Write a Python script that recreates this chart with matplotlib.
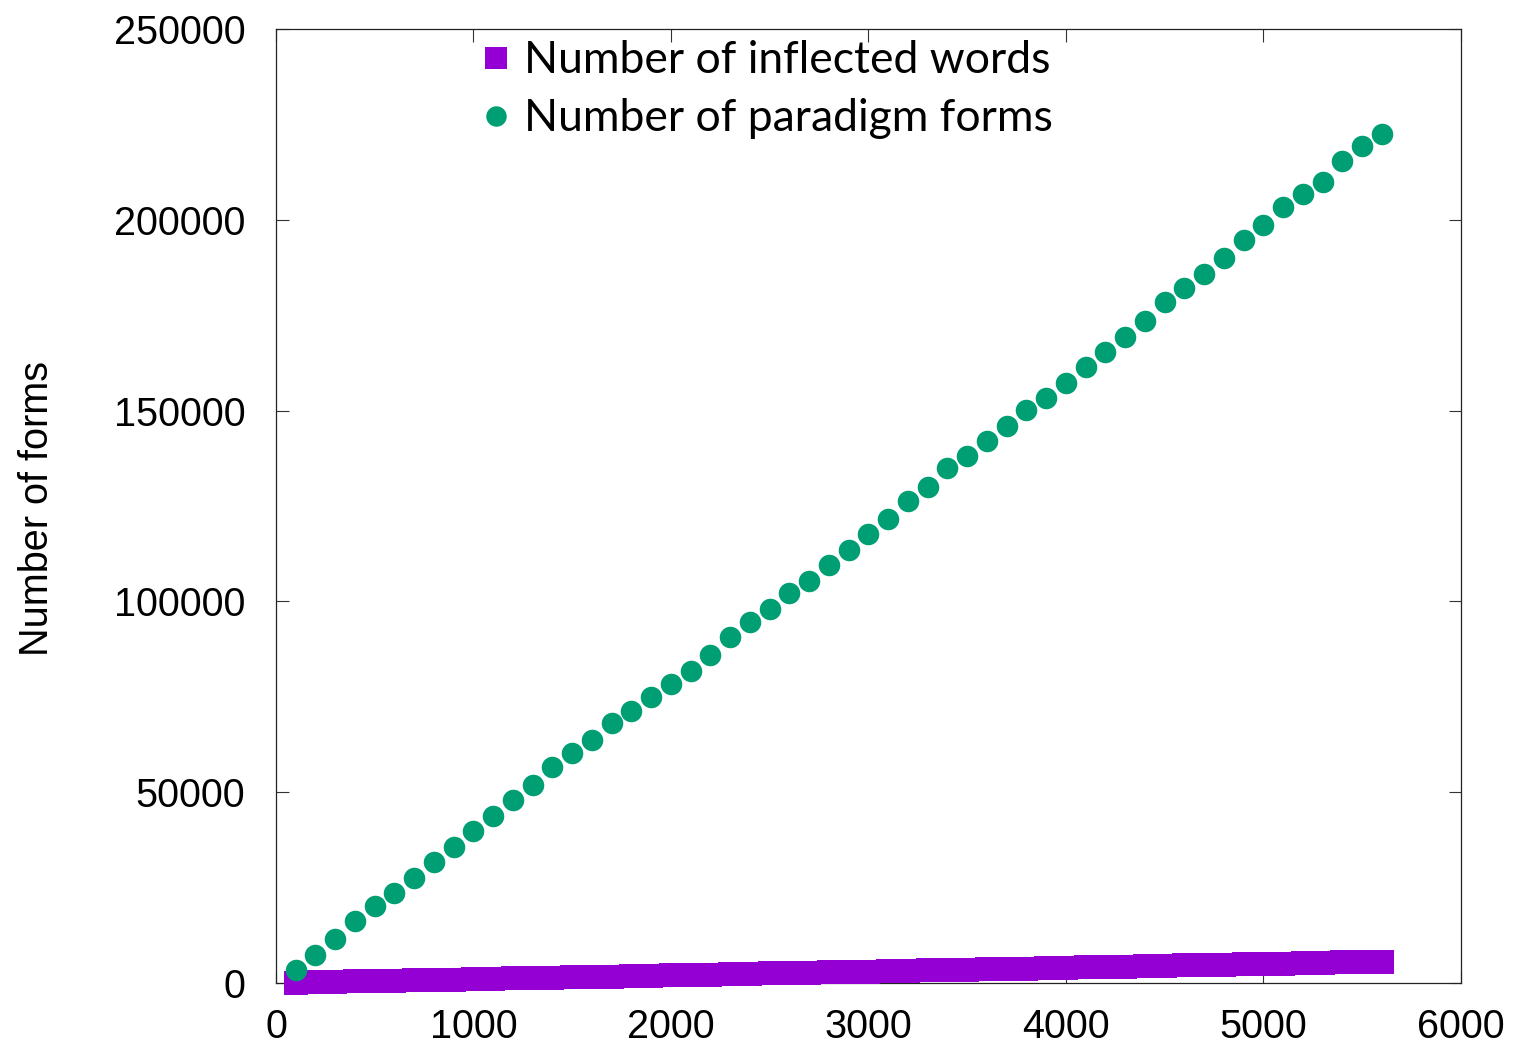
import numpy as np
import matplotlib.pyplot as plt

# number of words in the sample (x axis)
words = [100, 200, 300, 400, 500, 600, 700, 800, 900, 1000,
         1100, 1200, 1300, 1400, 1500, 1600, 1700, 1800, 1900, 2000,
         2100, 2200, 2300, 2400, 2500, 2600, 2700, 2800, 2900, 3000,
         3100, 3200, 3300, 3400, 3500, 3600, 3700, 3800, 3900, 4000,
         4100, 4200, 4300, 4400, 4500, 4600, 4700, 4800, 4900, 5000,
         5100, 5200, 5300, 5400, 5500, 5600]

inflected = [100, 200, 300, 400, 500, 600, 700, 800, 900, 1000,
             1100, 1200, 1300, 1400, 1500, 1600, 1700, 1800, 1900, 2000,
             2100, 2200, 2300, 2400, 2500, 2600, 2700, 2800, 2900, 3000,
             3100, 3200, 3300, 3400, 3500, 3600, 3700, 3800, 3900, 4000,
             4100, 4200, 4300, 4400, 4500, 4600, 4700, 4800, 4900, 5000,
             5100, 5200, 5300, 5400, 5500, 5600]

paradigm = [3400, 7300, 11500, 16200, 20200, 23600, 27500, 31700, 35600, 39800,
            43800, 48000, 51900, 56600, 60300, 63700, 68100, 71300, 74900, 78400,
            81800, 85900, 90700, 94600, 98000, 102200, 105300, 109500, 113500, 117700,
            121600, 126300, 130000, 135000, 138100, 142000, 146000, 150200, 153300, 157200,
            161400, 165400, 169300, 173500, 178500, 182100, 185800, 190000, 194700, 198600,
            203400, 206800, 209900, 215400, 219300, 222500]

xticks = [0, 1000, 2000, 3000, 4000, 5000, 6000]
yticks = [0, 50000, 100000, 150000, 200000, 250000]

fig = plt.figure(figsize=(15.13, 10.48), dpi=100)
ax = fig.add_axes([0.1824, 0.0620, 0.7832, 0.9103])

ax.plot(words, inflected, "s", color="#9400D3", markersize=17, markeredgewidth=0,
        label="Number of inflected words", clip_on=False, zorder=3)
ax.plot(words, paradigm, "o", color="#009E73", markersize=15.5, markeredgewidth=0,
        label="Number of paradigm forms", clip_on=False, zorder=4)

ax.set_xlim(0, 6000)
ax.set_ylim(0, 250000)
ax.set_xticks(xticks)
ax.set_yticks(yticks)
ax.set_xticklabels([str(v) for v in xticks], family="Liberation Sans", fontsize=28.5)
ax.set_yticklabels([str(v) for v in yticks], family="Liberation Sans", fontsize=28.5)
ax.tick_params(direction="in", length=9, width=0.8, top=True, right=True, color="#333333")
ax.tick_params(axis="y", pad=22)
ax.tick_params(axis="x", pad=18)
for s in ax.spines.values():
    s.set_linewidth(0.9)
    s.set_color("#222222")

fig.text(37 / 1513, 1 - 508 / 1048, "Number of forms", rotation=90, ha="center", va="center",
         family="Liberation Sans", fontsize=28.5)

leg = ax.legend(loc="upper left", bbox_to_anchor=(0.1595, 1.0), frameon=False,
                prop={"family": "Lato", "size": 32}, borderpad=0, borderaxespad=0.25,
                handlelength=0.9, handletextpad=0.18, labelspacing=0.39, markerscale=0.95)

fig.savefig("out.png", dpi=100)
